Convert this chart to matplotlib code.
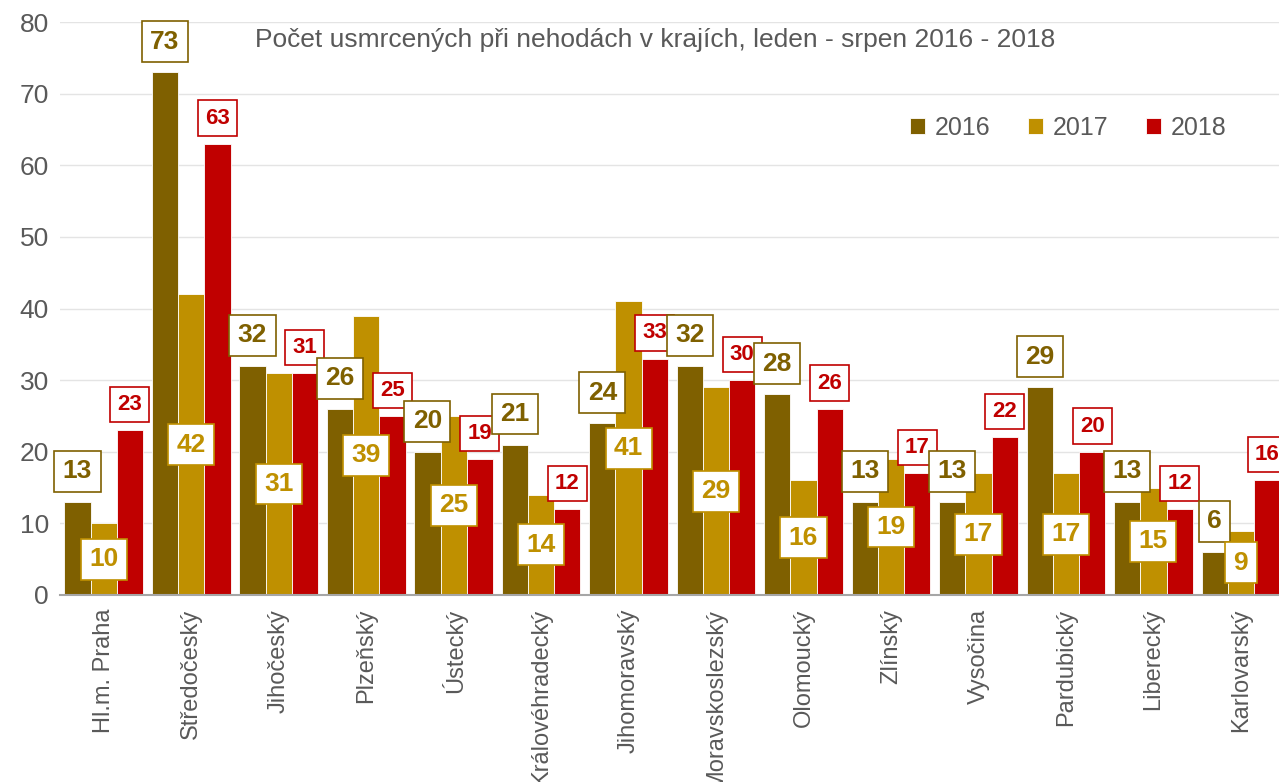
import numpy as np
import matplotlib.pyplot as plt

kraje = ['Hl.m. Praha', 'Středočeský', 'Jihočeský', 'Plzeňský', 'Ústecký',
         'Královéhradecký', 'Jihomoravský', 'Moravskoslezský', 'Olomoucký',
         'Zlínský', 'Vysočina', 'Pardubický', 'Liberecký', 'Karlovarský']
r2016 = [13, 73, 32, 26, 20, 21, 24, 32, 28, 13, 13, 29, 13, 6]
r2017 = [10, 42, 31, 39, 25, 14, 41, 29, 16, 19, 17, 17, 15, 9]
r2018 = [23, 63, 31, 25, 19, 12, 33, 30, 26, 17, 22, 20, 12, 16]

c16 = '#7F6000'
c17 = '#BF9000'
c18 = '#C00000'
grey = '#595959'

plt.rcParams['font.family'] = ['Liberation Sans', 'DejaVu Sans']

fig = plt.figure(figsize=(12.79, 7.82), dpi=100)
ax = fig.add_axes([60/1279, 187/782, 1222/1279, 573/782])

x = np.arange(len(kraje))
w = 0.30
ax.bar(x - w, r2016, w, color=c16, edgecolor='white', linewidth=0.6, label='2016', zorder=2)
ax.bar(x, r2017, w, color=c17, edgecolor='white', linewidth=0.6, label='2017', zorder=2)
ax.bar(x + w, r2018, w, color=c18, edgecolor='white', linewidth=0.6, label='2018', zorder=2)

# popisky hodnot
for i in range(len(kraje)):
    ax.annotate(str(r2016[i]), (x[i] - w, r2016[i]), xytext=(0, 22), textcoords='offset points',
                ha='center', va='center', fontsize=19, fontweight='bold', color=c16, zorder=5,
                bbox=dict(boxstyle='square,pad=0.32', fc='white', ec=c16, lw=1.2))
    ax.text(x[i], r2017[i] / 2, str(r2017[i]), ha='center', va='center', fontsize=19,
            fontweight='bold', color=c17, zorder=5,
            bbox=dict(boxstyle='square,pad=0.32', fc='white', ec=c17, lw=1.2))
    ax.annotate(str(r2018[i]), (x[i] + w, r2018[i]), xytext=(0, 18.5), textcoords='offset points',
                ha='center', va='center', fontsize=16, fontweight='bold', color=c18, zorder=5,
                bbox=dict(boxstyle='square,pad=0.32', fc='white', ec=c18, lw=1.2))

ax.set_ylim(0, 80)
ax.set_xlim(-0.5, 13.47)
ax.set_yticks(range(0, 81, 10))
ax.tick_params(axis='y', labelsize=19, colors=grey, length=0, pad=8)
ax.set_xticks(x)
ax.set_xticklabels(kraje, rotation=90, fontsize=17, color=grey)
ax.tick_params(axis='x', length=0, pad=10)
ax.grid(axis='y', color='#E4E4E4', lw=1, zorder=0)
ax.set_axisbelow(True)
for s in ['top', 'right', 'left']:
    ax.spines[s].set_visible(False)
ax.spines['bottom'].set_color('#A6A6A6')
ax.spines['bottom'].set_linewidth(1.5)

fig.text(655/1279, 1 - 40/782, 'Počet usmrcených při nehodách v krajích, leden - srpen 2016 - 2018',
         ha='center', va='center', fontsize=19, color=grey)

ax.legend(loc='center', bbox_to_anchor=((1068 - 60) / 1222, (782 - 128 - 187) / 573), ncol=3,
          frameon=False, fontsize=18, handlelength=0.6, handleheight=0.6, handletextpad=0.4,
          columnspacing=1.5, labelcolor=grey)

fig.savefig('out.png', dpi=100)
